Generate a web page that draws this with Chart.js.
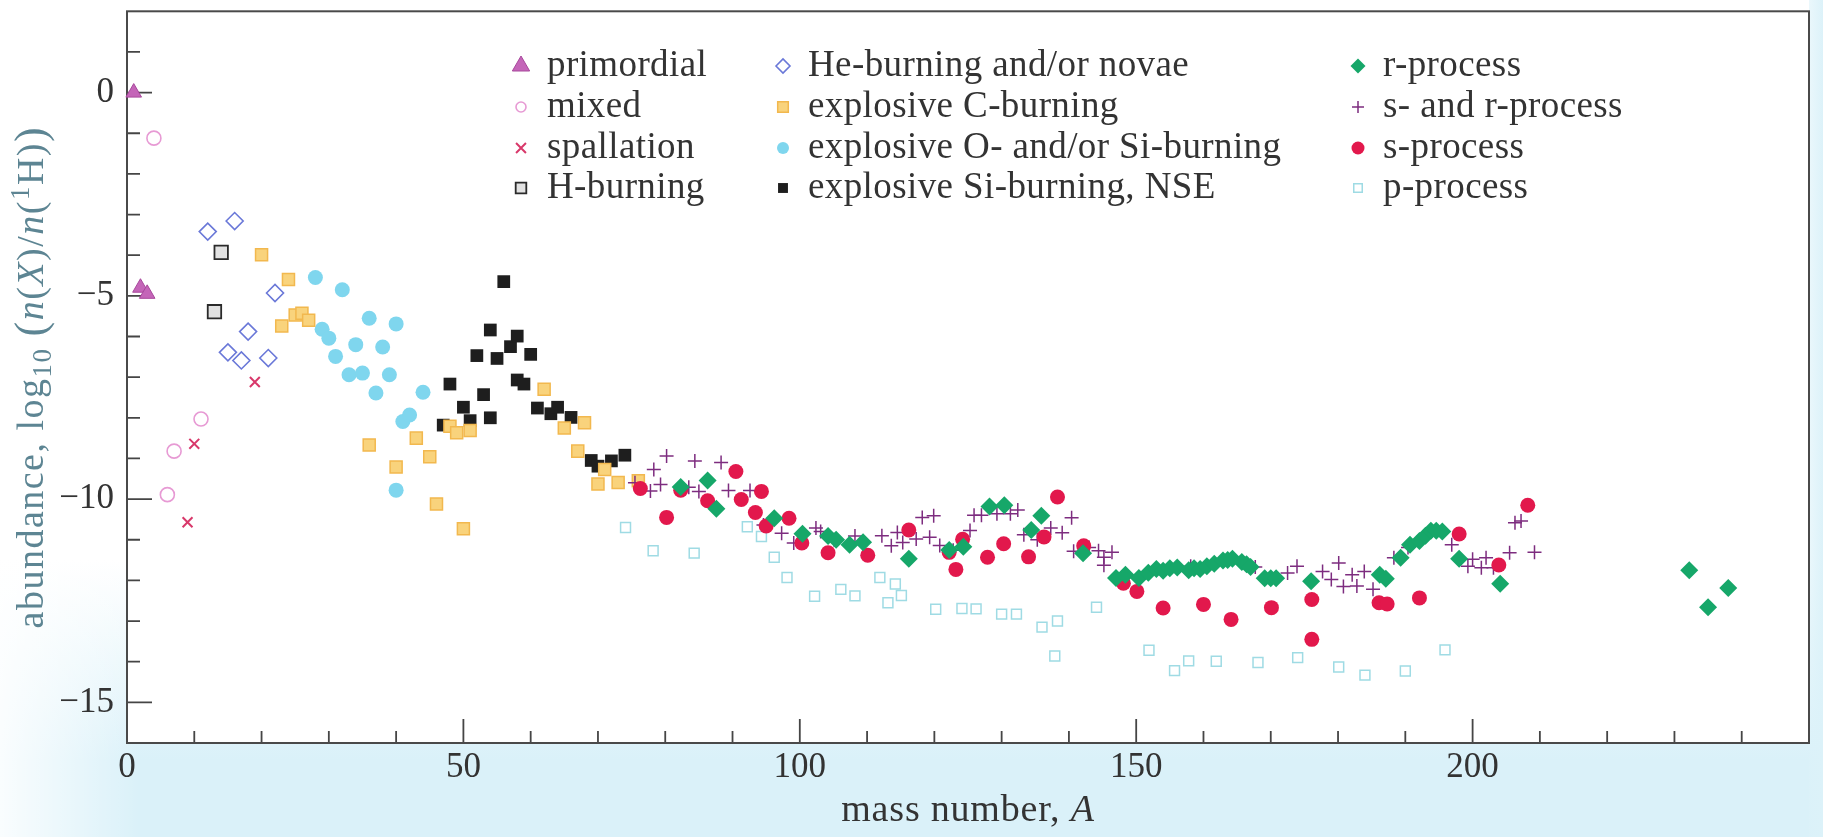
<!DOCTYPE html>
<html>
<head>
<meta charset="utf-8">
<script src="https://cdn.jsdelivr.net/npm/chart.js@4.4.1/dist/chart.umd.min.js"></script>
<style>
  html, body { margin: 0; padding: 0; background: #fff; }
  #wrap { width: 1823px; height: 837px; }
</style>
</head>
<body>
<div id="wrap"><canvas id="abundance" width="1823" height="837"></canvas></div>
<script>
// [mass number A, log10 n(X)/n(1H)]
var primordial = [[1,0],[2,-4.8],[3,-4.95]];
var mixed = [[4,-1.12],[6,-9.89],[7,-8.82],[11,-8.03]];
var spallation = [[9,-10.57],[10,-8.64],[19,-7.12]];
var hBurning = [[13,-5.39],[14,-3.93]];
var heBurning = [[12,-3.42],[15,-6.39],[16,-3.16],[17,-6.59],[18,-5.88],[21,-6.53],[22,-4.93]];
var cBurning = [[20,-3.99],[23,-5.74],[24,-4.6],[25,-5.47],[26,-5.43],[27,-5.6],[36,-8.67],[40,-9.21],
  [43,-8.5],[45,-8.96],[46,-10.12],[48,-8.21],[49,-8.37],[50,-10.73],[51,-8.31],[62,-7.3],[65,-8.25],
  [67,-8.82],[68,-8.12],[70,-9.63],[71,-9.27],[73,-9.59],[76,-9.55]];
var oSiBurning = [[28,-4.55],[29,-5.82],[30,-6.04],[31,-6.49],[32,-4.85],[33,-6.94],[34,-6.2],[35,-6.9],
  [36,-5.55],[37,-7.39],[38,-6.26],[39,-6.94],[40,-5.69],[40,-9.78],[41,-8.09],[42,-7.93],[44,-7.37]];
var siNSE = [[47,-8.18],[48,-7.17],[50,-7.74],[51,-8.07],[52,-6.47],[53,-7.43],[54,-5.84],[54,-8.0],
  [55,-6.54],[56,-4.65],[57,-6.25],[58,-5.99],[58,-7.07],[59,-7.17],[60,-6.44],[61,-7.76],[63,-7.9],
  [64,-7.74],[66,-7.99],[69,-9.05],[70,-9.19],[72,-9.06],[74,-8.92]];
var rProcess = [[82.3,-9.7],[86.3,-9.54],[87.6,-10.24],[96.2,-10.47],[100.4,-10.85],[104.2,-10.91],
  [105.4,-11.0],[107.4,-11.12],[109.4,-11.06],[116.2,-11.47],[122.2,-11.25],[124.3,-11.17],[128.2,-10.18],
  [130.4,-10.15],[134.4,-10.76],[135.9,-10.41],[142.1,-11.33],[147,-11.94],[148.4,-11.86],[150.4,-11.94],
  [151.8,-11.81],[153,-11.72],[154,-11.76],[155,-11.7],[156.1,-11.68],[157.8,-11.75],[158.6,-11.7],
  [159.5,-11.72],[160.5,-11.65],[161.6,-11.59],[162.9,-11.51],[163.6,-11.5],[164.3,-11.47],[165.7,-11.55],
  [166.4,-11.6],[167,-11.67],[169.1,-11.95],[170,-11.95],[170.8,-11.95],[176,-12.02],[186.2,-11.86],
  [187.1,-11.96],[189.3,-11.44],[190.7,-11.12],[192.1,-11.03],[193,-10.9],[193.8,-10.78],[194.6,-10.78],
  [195.5,-10.8],[198,-11.47],[204.1,-12.08],[232.2,-11.75],[235,-12.66],[238,-12.19]];
var sAndR = [[75.5,-9.6],[77.8,-9.8],[78.3,-9.27],[79.3,-9.64],[80.2,-8.94],[83.5,-9.71],[84.4,-9.06],
  [85,-9.81],[88.3,-9.1],[89.4,-9.79],[92.6,-9.79],[94.6,-10.64],[97.3,-10.84],[99.1,-11.08],[102.4,-10.71],
  [103.1,-10.8],[105.1,-11.0],[108.2,-10.91],[112.2,-10.9],[113.6,-11.15],[114.5,-10.82],[115.3,-11.07],
  [117.3,-10.98],[118.2,-10.45],[119.3,-10.94],[119.9,-10.41],[120.8,-11.14],[122.8,-11.26],[125.3,-10.77],
  [125.9,-10.4],[127,-10.4],[129.3,-10.36],[131.3,-10.36],[132.4,-10.27],[133.3,-10.88],[135.3,-11.0],
  [137.3,-10.71],[139,-10.83],[140.4,-10.46],[140.7,-11.28],[143,-11.19],[144.4,-11.27],[145.2,-11.43],
  [145.2,-11.63],[146.4,-11.31],[158.1,-11.65],[167.7,-11.67],[172.5,-11.82],[173.9,-11.65],[177.7,-11.78],
  [179,-11.98],[180.1,-11.57],[180.8,-12.15],[182.1,-11.86],[182.8,-12.14],[183.9,-11.78],[185.2,-12.22],
  [188.3,-11.44],[190.4,-11.19],[196.9,-11.12],[199.3,-11.65],[200,-11.48],[201.3,-11.69],[202,-11.44],
  [203.1,-11.69],[205.5,-11.32],[206.3,-10.58],[207.2,-10.54],[209.2,-11.31]];
var sProcess = [[76.3,-9.74],[80.2,-10.45],[82.3,-9.78],[86.3,-10.04],[90.5,-9.32],[91.3,-10.01],
  [93.4,-10.33],[94.3,-9.81],[95,-10.66],[98.4,-10.47],[100.3,-11.08],[104.2,-11.32],[110.1,-11.38],
  [116.2,-10.76],[122.2,-11.31],[123.2,-11.73],[124.2,-10.99],[127.9,-11.43],[130.3,-11.1],[134,-11.42],
  [136.3,-10.93],[138.3,-9.95],[142.2,-11.15],[148.1,-12.07],[150.1,-12.27],[154,-12.68],[160,-12.59],
  [164.1,-12.96],[170.1,-12.67],[176.1,-12.47],[176.1,-13.45],[186.1,-12.55],[187.3,-12.58],[192.1,-12.43],
  [198,-10.86],[203.9,-11.62],[208.2,-10.15]];
var pProcess = [[74.1,-10.7],[78.2,-11.27],[84.3,-11.33],[92.2,-10.68],[94.3,-10.92],[96.2,-11.43],
  [98.1,-11.93],[102.2,-12.39],[106.1,-12.22],[108.2,-12.38],[111.9,-11.93],[113.1,-12.55],[114.2,-12.09],
  [115.1,-12.37],[120.2,-12.71],[124.1,-12.69],[126.2,-12.7],[130,-12.83],[132.2,-12.83],[136,-13.15],
  [137.9,-13.86],[138.3,-13.0],[144.1,-12.66],[151.9,-13.72],[155.7,-14.22],[157.8,-13.98],[161.9,-13.99],
  [168.1,-14.02],[174,-13.9],[180.1,-14.13],[184,-14.33],[190,-14.23],[195.9,-13.71]];

var xLabelTicks = [0, 50, 100, 150, 200];
var yLabelTicks = [0, -5, -10, -15];

var serif = "'Liberation Serif', 'DejaVu Serif', serif";

function toPoints(arr) {
  return arr.map(function(p){ return {x: p[0], y: p[1]}; });
}

function series(label, data, style) {
  var ds = {label: label, data: toPoints(data), showLine: false, clip: false, pointHoverRadius: style.pointRadius};
  for (var k in style) ds[k] = style[k];
  return ds;
}

var datasets = [
  series('primordial', primordial, {pointStyle:'triangle', pointRadius:9, backgroundColor:'#c465b8', borderColor:'#a8489c', borderWidth:1, order:4}),
  series('mixed', mixed, {pointStyle:'circle', pointRadius:7, backgroundColor:'rgba(255,255,255,0)', borderColor:'#e79ad4', borderWidth:1.6, order:4}),
  series('spallation', spallation, {pointStyle:'crossRot', pointRadius:7, backgroundColor:'#d8386a', borderColor:'#d8386a', borderWidth:2, order:4}),
  series('H-burning', hBurning, {pointStyle:'rect', pointRadius:9.5, backgroundColor:'#e2e2e2', borderColor:'#2a2a2a', borderWidth:1.8, order:4}),
  series('He-burning and/or novae', heBurning, {pointStyle:'rectRot', pointRadius:8.5, backgroundColor:'rgba(255,255,255,0)', borderColor:'#6a78d8', borderWidth:1.6, order:4}),
  series('explosive C-burning', cBurning, {pointStyle:'rect', pointRadius:8.5, backgroundColor:'#f9d37c', borderColor:'#f2b84e', borderWidth:1.5, order:4}),
  series('explosive O- and/or Si-burning', oSiBurning, {pointStyle:'circle', pointRadius:7.5, backgroundColor:'#7fd6ee', borderColor:'#7fd6ee', borderWidth:0, order:4}),
  series('explosive Si-burning, NSE', siNSE, {pointStyle:'rect', pointRadius:9, backgroundColor:'#1e1e1e', borderColor:'#1e1e1e', borderWidth:0, order:4}),
  series('r-process', rProcess, {pointStyle:'rectRot', pointRadius:9, backgroundColor:'#16a769', borderColor:'#16a769', borderWidth:0, order:0}),
  series('s- and r-process', sAndR, {pointStyle:'cross', pointRadius:7, backgroundColor:'#7d2c7f', borderColor:'#7d2c7f', borderWidth:1.5, order:2}),
  series('s-process', sProcess, {pointStyle:'circle', pointRadius:7.5, backgroundColor:'#e2184c', borderColor:'#e2184c', borderWidth:0, order:1}),
  series('p-process', pProcess, {pointStyle:'rect', pointRadius:7, backgroundColor:'rgba(255,255,255,0)', borderColor:'#9fdbe4', borderWidth:1.5, order:3})
];

// page tint, white plot panel
var pageBackground = {
  id: 'pageBackground',
  beforeDraw: function(chart) {
    var ctx = chart.ctx, a = chart.chartArea, w = chart.width, h = chart.height;
    ctx.save();
    ctx.fillStyle = '#ffffff';
    ctx.fillRect(0, 0, w, h);
    var g = ctx.createLinearGradient(0, 560, 0, 760);
    g.addColorStop(0, 'rgba(218,241,249,0)');
    g.addColorStop(1, 'rgba(218,241,249,1)');
    ctx.fillStyle = g;
    ctx.fillRect(0, 560, w, h - 560);
    var g2 = ctx.createLinearGradient(0, 0, 140, 0);
    g2.addColorStop(0, 'rgba(255,255,255,0.85)');
    g2.addColorStop(1, 'rgba(255,255,255,0)');
    ctx.fillStyle = g2;
    ctx.fillRect(0, 560, 140, h - 560);
    var g3 = ctx.createLinearGradient(a.right - 10, 0, w, 0);
    g3.addColorStop(0, 'rgba(220,242,249,0.3)');
    g3.addColorStop(1, 'rgba(220,242,249,1)');
    ctx.fillStyle = g3;
    ctx.fillRect(a.right, 0, w - a.right, h);
    ctx.fillStyle = '#ffffff';
    ctx.fillRect(a.left, a.top, a.right - a.left, a.bottom - a.top);
    ctx.restore();
  }
};

// frame and inward tick marks
var frameTicks = {
  id: 'frameTicks',
  beforeDatasetsDraw: function(chart) {
    var ctx = chart.ctx, a = chart.chartArea, sx = chart.scales.x, sy = chart.scales.y;
    ctx.save();
    ctx.strokeStyle = '#454545';
    ctx.lineWidth = 1.8;
    ctx.beginPath();
    for (var v = sy.min + 1; v < sy.max; v++) {
      var py = sy.getPixelForValue(v);
      var len = (v % 5 === 0) ? 25 : 13;
      ctx.moveTo(a.left, py);
      ctx.lineTo(a.left + len, py);
    }
    for (var u = sx.min + 10; u < sx.max; u += 10) {
      var px = sx.getPixelForValue(u);
      var l2 = (u % 50 === 0) ? 24 : 12;
      ctx.moveTo(px, a.bottom);
      ctx.lineTo(px, a.bottom - l2);
    }
    ctx.stroke();
    ctx.strokeStyle = '#4a4a4a';
    ctx.lineWidth = 2;
    ctx.strokeRect(a.left, a.top, a.right - a.left, a.bottom - a.top);
    ctx.restore();
  }
};

function drawRuns(ctx, runs, x, y) {
  var total = 0;
  runs.forEach(function(r){ ctx.font = r.font; r.w = ctx.measureText(r.t).width; total += r.w; });
  var cx = x - total / 2;
  runs.forEach(function(r){
    ctx.font = r.font;
    ctx.fillText(r.t, cx, y + (r.dy || 0));
    cx += r.w;
  });
}

// axis titles with math parts
var axisTitles = {
  id: 'axisTitles',
  afterDraw: function(chart) {
    var ctx = chart.ctx, a = chart.chartArea;
    var rm = '38px ' + serif, it = 'italic 38px ' + serif, sm = '27px ' + serif, big = '44px ' + serif;
    ctx.save();
    ctx.textAlign = 'left';
    ctx.textBaseline = 'alphabetic';
    ctx.letterSpacing = '1.5px';
    ctx.fillStyle = '#5d8593';
    ctx.translate(43, (a.top + a.bottom) / 2);
    ctx.rotate(-Math.PI / 2);
    drawRuns(ctx, [
      {t:'abundance, log', font: rm},
      {t:'10', font: sm, dy: 8},
      {t:' ', font: rm},
      {t:'(', font: big, dy: 2},
      {t:'n', font: it},
      {t:'(', font: rm},
      {t:'X', font: it},
      {t:')/', font: rm},
      {t:'n', font: it},
      {t:'(', font: rm},
      {t:'1', font: sm, dy: -14},
      {t:'H)', font: rm},
      {t:')', font: big, dy: 2}
    ], 0, 0);
    ctx.restore();

    ctx.save();
    ctx.textAlign = 'left';
    ctx.textBaseline = 'alphabetic';
    ctx.letterSpacing = '0.8px';
    ctx.fillStyle = '#333333';
    drawRuns(ctx, [
      {t:'mass number, ', font: rm},
      {t:'A', font: it}
    ], (a.left + a.right) / 2, 821);
    ctx.restore();
  }
};

// three-column key drawn from the datasets
var keyBox = {
  id: 'keyBox',
  afterDraw: function(chart, args, opts) {
    var ctx = chart.ctx;
    ctx.save();
    ctx.font = opts.fontSize + 'px ' + serif;
    ctx.letterSpacing = '0.4px';
    ctx.textAlign = 'left';
    ctx.textBaseline = 'alphabetic';
    chart.data.datasets.forEach(function(ds, i) {
      var col = Math.floor(i / 4), row = i % 4;
      var mx = opts.markerX[col], my = opts.rowY[row];
      ctx.fillStyle = ds.backgroundColor;
      ctx.strokeStyle = ds.borderColor;
      ctx.lineWidth = ds.borderWidth;
      Chart.helpers.drawPoint(ctx, {pointStyle: ds.pointStyle, radius: opts.radius[i], rotation: 0, borderWidth: ds.borderWidth}, mx, my);
      ctx.fillStyle = '#333333';
      ctx.fillText(ds.label, opts.textX[col], my + 10);
    });
    ctx.restore();
  }
};

new Chart(document.getElementById('abundance'), {
  type: 'scatter',
  data: { datasets: datasets },
  options: {
    responsive: false,
    animation: false,
    devicePixelRatio: 1,
    layout: { padding: { top: 11, right: 14, bottom: 0, left: 0 } },
    plugins: {
      legend: { display: false },
      tooltip: { enabled: false },
      keyBox: {
        markerX: [521, 783, 1358],
        textX: [547, 808, 1383],
        rowY: [66, 107, 148, 188],
        radius: [10, 5, 7, 7.5, 7, 7.5, 6, 7, 7.5, 6, 6.5, 6],
        fontSize: 37
      }
    },
    scales: {
      x: {
        type: 'linear', min: 0, max: 250,
        grid: { display: false, drawTicks: false },
        border: { display: false },
        ticks: {
          stepSize: 10, autoSkip: false, maxRotation: 0, padding: 4,
          color: '#333333', font: { family: serif, size: 35 },
          callback: function(v) { return xLabelTicks.indexOf(v) >= 0 ? String(v) : ''; }
        },
        afterFit: function(s) { s.height = 94; s.paddingLeft = 0; s.paddingRight = 0; }
      },
      y: {
        type: 'linear', min: -16, max: 2,
        grid: { display: false, drawTicks: false },
        border: { display: false },
        ticks: {
          stepSize: 1, autoSkip: false, padding: 13,
          color: '#333333', font: { family: serif, size: 35 },
          callback: function(v) {
            if (yLabelTicks.indexOf(v) < 0) return '';
            return v < 0 ? '\u2212' + (-v) : '0';
          }
        },
        afterFit: function(s) { s.width = 127; s.paddingTop = 0; s.paddingBottom = 0; }
      }
    }
  },
  plugins: [pageBackground, frameTicks, axisTitles, keyBox]
});
</script>
</body>
</html>
